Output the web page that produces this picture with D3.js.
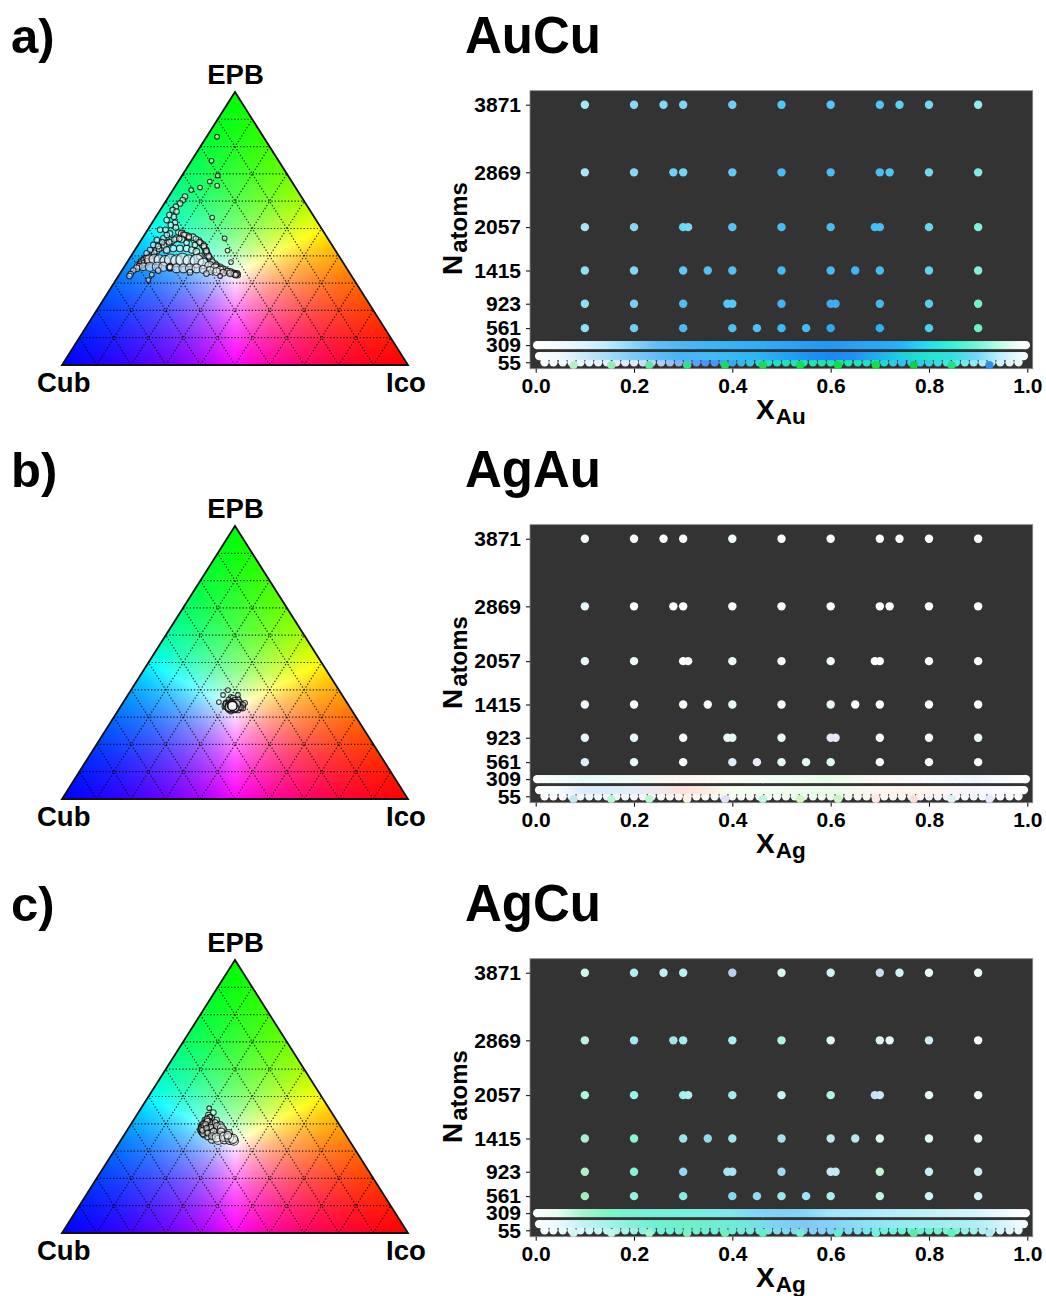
<!DOCTYPE html>
<html>
<head>
<meta charset="utf-8">
<script src="https://cdn.jsdelivr.net/npm/d3@7"></script>
<style>
  body { margin: 0; background: #fff; }
  text { font-family: "Liberation Sans", Arial, sans-serif; font-weight: bold; fill: #000; }
</style>
</head>
<body>
<div id="chart"></div>
<script>
// cluster sizes of the rows and the labelled ticks
const yTicks = [55, 309, 561, 923, 1415, 2057, 2869, 3871]
const xTicks = [0, 0.2, 0.4, 0.6, 0.8, 1]
const gridLevels = [0.1, 0.2, 0.3, 0.4, 0.5, 0.6, 0.7, 0.8, 0.9]

// compositions found in each row
const comp3871 = [0.1, 0.2, 0.26, 0.3, 0.4, 0.5, 0.6, 0.7, 0.74, 0.8, 0.9]
const comp2869 = [0.1, 0.2, 0.28, 0.3, 0.4, 0.5, 0.6, 0.7, 0.72, 0.8, 0.9]
const comp2057 = [0.1, 0.2, 0.3, 0.31, 0.4, 0.5, 0.6, 0.69, 0.7, 0.8, 0.9]
const comp1415 = [0.1, 0.2, 0.3, 0.35, 0.4, 0.5, 0.6, 0.65, 0.7, 0.8, 0.9]
const comp923 = [0.1, 0.2, 0.3, 0.39, 0.4, 0.5, 0.6, 0.61, 0.7, 0.8, 0.9]
const comp561 = [0.1, 0.2, 0.3, 0.4, 0.45, 0.5, 0.55, 0.6, 0.7, 0.8, 0.9]
const comp309 = [.003,.005,.01,.015,.02,.025,.03,.035,.04,.045,.05,.055,.06,.065,.07,.075,.08,.085,.09,.095,.1,
  .105,.11,.115,.12,.125,.13,.135,.14,.145,.15,.155,.16,.165,.17,.175,.18,.185,.19,.195,.2,
  .205,.21,.215,.22,.225,.23,.235,.24,.245,.25,.255,.26,.265,.27,.275,.28,.285,.29,.295,.3,
  .305,.31,.315,.32,.325,.33,.335,.34,.345,.35,.355,.36,.365,.37,.375,.38,.385,.39,.395,.4,
  .405,.41,.415,.42,.425,.43,.435,.44,.445,.45,.455,.46,.465,.47,.475,.48,.485,.49,.495,.5,
  .505,.51,.515,.52,.525,.53,.535,.54,.545,.55,.555,.56,.565,.57,.575,.58,.585,.59,.595,.6,
  .605,.61,.615,.62,.625,.63,.635,.64,.645,.65,.655,.66,.665,.67,.675,.68,.685,.69,.695,.7,
  .705,.71,.715,.72,.725,.73,.735,.74,.745,.75,.755,.76,.765,.77,.775,.78,.785,.79,.795,.8,
  .805,.81,.815,.82,.825,.83,.835,.84,.845,.85,.855,.86,.865,.87,.875,.88,.885,.89,.895,.9,
  .905,.91,.915,.92,.925,.93,.935,.94,.945,.95,.955,.96,.965,.97,.975,.98,.985,.99,.995,.997]
const comp147 = [.007,.01,.015,.02,.025,.03,.035,.04,.045,.05,.055,.06,.065,.07,.075,.08,.085,.09,.095,.1,
  .105,.11,.115,.12,.125,.13,.135,.14,.145,.15,.155,.16,.165,.17,.175,.18,.185,.19,.195,.2,
  .205,.21,.215,.22,.225,.23,.235,.24,.245,.25,.255,.26,.265,.27,.275,.28,.285,.29,.295,.3,
  .305,.31,.315,.32,.325,.33,.335,.34,.345,.35,.355,.36,.365,.37,.375,.38,.385,.39,.395,.4,
  .405,.41,.415,.42,.425,.43,.435,.44,.445,.45,.455,.46,.465,.47,.475,.48,.485,.49,.495,.5,
  .505,.51,.515,.52,.525,.53,.535,.54,.545,.55,.555,.56,.565,.57,.575,.58,.585,.59,.595,.6,
  .605,.61,.615,.62,.625,.63,.635,.64,.645,.65,.655,.66,.665,.67,.675,.68,.685,.69,.695,.7,
  .705,.71,.715,.72,.725,.73,.735,.74,.745,.75,.755,.76,.765,.77,.775,.78,.785,.79,.795,.8,
  .805,.81,.815,.82,.825,.83,.835,.84,.845,.85,.855,.86,.865,.87,.875,.88,.885,.89,.895,.9,
  .905,.91,.915,.92,.925,.93,.935,.94,.945,.95,.955,.96,.965,.97,.975,.98,.985,.99,.993]
const comp55 = [0.018, 0.036, 0.055, 0.073, 0.091, 0.109, 0.127, 0.145, 0.164, 0.182, 0.2, 0.218, 0.236, 0.255, 0.273, 0.291, 0.309, 0.327,
  0.345, 0.364, 0.382, 0.4, 0.418, 0.436, 0.455, 0.473, 0.491, 0.509, 0.527, 0.545, 0.564, 0.582, 0.6, 0.618, 0.636, 0.655, 0.673, 0.691,
  0.709, 0.727, 0.745, 0.764, 0.782, 0.8, 0.818, 0.836, 0.855, 0.873, 0.891, 0.909, 0.927, 0.945, 0.964, 0.982]
const comp13 = [0.077, 0.154, 0.231, 0.308, 0.385, 0.462, 0.538, 0.615, 0.692, 0.769, 0.846, 0.923]

// ternary points: [EPB fraction, Ico fraction, atoms]
const scatterA = [
  [.836,.030,55],[.748,.058,55],[.694,.103,55],[.672,.091,55],[.657,.120,55],[.650,.074,55],[.641,.053,55],[.540,.164,55],[.464,.238,55],[.419,.269,55],[.377,.300,55],
  [.617,.047,147],[.604,.047,147],[.592,.045,147],[.580,.039,147],[.568,.036,147],[.562,.050,147],[.549,.036,147],[.543,.052,147],[.531,.037,147],[.521,.066,147],[.513,.058,147],[.504,.077,147],[.495,.036,147],[.495,.052,147],[.482,.071,147],[.485,.094,147],
  [.482,.105,309],[.473,.124,309],[.468,.144,309],[.455,.167,309],[.440,.187,309],[.421,.205,309],[.403,.219,309],[.385,.238,309],[.370,.257,309],[.358,.278,309],[.348,.297,309],[.341,.316,309],[.333,.334,309],[.331,.341,309],
  [.478,.112,147],[.464,.134,147],[.447,.177,147],[.430,.196,147],[.412,.212,147],[.394,.229,147],[.362,.268,147],[.338,.327,147],[.335,.331,147],[.336,.338,147],
  [.476,.116,147],[.470,.132,147],[.462,.156,147],[.450,.172,147],[.436,.192,147],[.418,.208,147],[.398,.225,147],[.378,.246,147],[.366,.262,147],[.353,.288,147],[.344,.306,147],[.334,.330,147],[.332,.338,147],[.330,.336,147],
  [.391,.050,309],[.403,.058,309],[.419,.064,309],[.431,.072,309],[.446,.080,309],[.455,.090,309],[.464,.099,309],[.460,.116,309],
  [.397,.054,147],[.411,.061,147],[.425,.068,147],[.438,.076,147],[.450,.085,147],[.460,.095,147],[.462,.108,147],
  [.458,.045,147],[.440,.044,147],[.421,.044,147],[.409,.040,147],[.464,.061,147],[.476,.065,147],[.450,.065,147],[.435,.060,147],
  [.421,.092,309],[.427,.108,309],[.427,.127,309],[.427,.147,309],[.421,.165,309],[.415,.181,309],[.397,.200,309],[.448,.136,147],[.440,.164,147],
  [.364,.039,561],[.372,.044,561],[.382,.049,561],[.380,.040,309],[.388,.045,309],[.368,.048,309],[.376,.055,309],
  [.370,.040,147],[.376,.042,147],[.384,.044,147],[.392,.048,147],[.362,.042,147],[.374,.050,147],[.380,.056,147],
  [.387,.059,923],[.387,.073,1415],[.385,.089,1415],[.382,.107,1415],[.385,.121,2057],[.382,.140,2057],[.385,.156,2869],[.382,.176,2057],[.381,.199,2869],[.372,.222,1415],[.363,.244,923],[.354,.265,923],[.348,.283,561],
  [.354,.039,309],[.346,.033,147],[.333,.032,147],[.326,.032,147],
  [.360,.055,561],[.360,.074,923],[.360,.094,923],[.360,.113,923],[.358,.133,561],[.358,.133,309],[.358,.133,147],[.354,.154,923],[.354,.174,923],[.354,.193,923],[.354,.212,923],[.350,.233,561],[.346,.255,561],[.342,.276,561],[.338,.297,309],[.336,.318,309],
  [.311,.094,55],[.331,.094,55],[.346,.105,147],[.326,.294,55],[.335,.250,147],[.340,.200,147]
]
const scatterB = [
  [.399,.280,55],[.355,.276,55],[.381,.275,55],[.381,.318,55],[.352,.353,55],[.374,.301,55],
  [.352,.298,147],[.363,.301,147],[.370,.309,147],[.363,.328,147],[.348,.343,147],[.333,.356,147],[.326,.346,147],[.333,.313,147],[.341,.300,147],[.322,.327,147],[.355,.322,147],[.337,.346,147],
  [.352,.305,147],[.358,.312,147],[.362,.318,147],[.355,.335,147],[.345,.350,147],[.335,.350,147],[.326,.335,147],[.328,.318,147],[.338,.305,147],[.348,.300,147],
  [.350,.325,309],[.345,.338,309],[.332,.338,309],[.330,.322,309],[.343,.310,309],[.352,.315,309],
  [.350,.318,309],[.348,.332,309],[.338,.342,309],[.330,.330,309],[.336,.312,309],[.346,.312,309],
  [.349,.322,561],[.344,.333,561],[.334,.332,561],[.335,.316,561],[.344,.314,561],
  [.348,.328,923],[.336,.330,923],[.338,.316,923],[.346,.318,923],
  [.341,.322,923],[.341,.322,923],[.341,.322,923],[.341,.322,923],[.341,.322,923]
]
const scatterC = [
  [.457,.197,55],[.441,.217,147],[.432,.207,147],[.414,.206,147],[.420,.223,147],[.414,.240,147],
  [.396,.206,147],[.396,.220,147],[.396,.239,147],[.396,.259,309],[.377,.211,147],[.377,.225,147],[.380,.243,309],[.377,.261,309],[.380,.276,309],
  [.359,.231,147],[.365,.246,309],[.359,.266,561],[.359,.282,561],[.365,.299,561],[.343,.262,561],[.341,.281,923],[.343,.298,923],[.343,.315,1415],[.338,.328,923],
  [.425,.215,147],[.405,.212,147],[.388,.208,147],[.370,.218,147],[.405,.226,147],[.388,.222,147],[.370,.232,147],[.405,.240,147],[.388,.236,147],[.352,.245,147],
  [.425,.215,55],[.405,.212,55],[.388,.208,55],[.370,.218,55],[.396,.215,55],[.380,.215,55],[.412,.218,55],
  [.418,.210,147],[.400,.209,147],[.382,.212,147],[.364,.225,147],[.392,.214,147],[.376,.218,147],[.410,.215,147],[.398,.216,147],[.384,.226,147],[.366,.238,147],
  [.392,.252,309],[.372,.252,309],[.355,.256,309],[.385,.268,561],[.370,.275,561],[.350,.272,923],[.352,.292,923],[.350,.308,923],[.345,.322,923],[.358,.300,561]
]

// colours of the single points, one per composition of the row
const aColours3871 = ["#a8e5f8","#88d8f5","#85d8f5","#80d5f5","#70cef5","#55c5f5","#55c5f5","#50c5f5","#60d0f0","#70d8f0","#90ecec"]
const aColours2869 = ["#a8e5f8","#88d8f5","#70d0f5","#75d5f5","#60c8f5","#45bdf5","#45bdf5","#45bdf5","#50c5f0","#70d8f0","#80e8e5"]
const aColours2057 = ["#a8e5f5","#88d8f5","#70d5f5","#75d8f5","#55c5f5","#45bdf5","#45bdf5","#45bdf5","#45c0f5","#65d5f0","#80f0e0"]
const aColours1415 = ["#90e0f5","#80d8f5","#60c8f5","#55c0f5","#50c0f5","#40bbf5","#40bbf5","#40b5f5","#40bdf5","#60d0f5","#80f0dd"]
const aColours923 = ["#90dff5","#78cef0","#50c0f0","#55c8f8","#55c8f8","#40b5f5","#40aaf5","#40aaf5","#40bbf0","#55ccf0","#70f0cc"]
const aColours561 = ["#90dff5","#70cef0","#50baf0","#50bef0","#50c0f5","#40baf5","#40bdf5","#30a8ee","#30b0ee","#50ccec","#70eec0"]
const bColours3871 = ["#f2fafa","#ffffff","#ffffff","#fafffa","#f5ffff","#ffffff","#ffffff","#fafffa","#ffffff","#ffffff","#ffffff"]
const bColours2869 = ["#e5f5f8","#ffffff","#f8fffa","#ffffff","#f5fbf8","#f5fbf8","#ffffff","#ffffff","#ffffff","#ffffff","#ffffff"]
const bColours2057 = ["#e8f8fa","#eefbfa","#ffffff","#f5fafa","#eefbf5","#f5fbf8","#f0fbf5","#ffffff","#ffffff","#ffffff","#ffffff"]
const bColours1415 = ["#eef5fa","#f5fbf8","#fafff5","#ffffff","#e8f8ec","#f5fbf8","#e8f8ec","#ffffff","#ffffff","#ffffff","#ffffff"]
const bColours923 = ["#e8f5fa","#e8f8fa","#f5fbf2","#eefbf5","#e8f8f5","#ecfaf0","#e5e8fa","#e5e8fa","#ffffff","#f5fbf8","#e5f8f5"]
const bColours561 = ["#ddeef8","#eaf8fa","#f5fbf5","#ddecf8","#e8edf8","#e8faf0","#e0fbf0","#e0f8ee","#ffffff","#f5fbf8","#f5fbf8"]
const cColours3871 = ["#d0f5ee","#b0eef5","#c0f0f5","#b8f0f5","#b8d0f0","#d8f8f2","#d0f2f5","#d0dcf2","#d0f5f5","#e8faf0","#f0faf5"]
const cColours2869 = ["#c0f0e5","#a0e8f5","#a8e0f0","#a8eef0","#a8eef5","#b0f5d5","#e0faf0","#d8f2f5","#e5f5f5","#d0ecf2","#f5fbf2"]
const cColours2057 = ["#b0f5e0","#98f5e5","#a5eef0","#b0eef0","#a0eef0","#c8f5f5","#b0f5e5","#cfe0f8","#c8e8f5","#e8faf5","#f0fbf5"]
const cColours1415 = ["#a8eed0","#88f5d5","#98e8ee","#90dcee","#a0e8f0","#a8e0ee","#c0e8f0","#b8e5f2","#d8f8e8","#e0f8f8","#e8faf5"]
const cColours923 = ["#b0f0c8","#80f5d5","#90d8f5","#a0e5f5","#a5e5f5","#a0d8f2","#c8e8f8","#c0e8f5","#c0f5d5","#c0f0f5","#d0ecf2"]
const cColours561 = ["#a0eec0","#90f5e0","#80eee5","#80dcee","#90dcf5","#98e8f0","#98e5f5","#a8f0f0","#c0f5e0","#c8f5f5","#d8f2f5"]

// band colours at these compositions
const colourStops = [0, .05, .1, .15, .2, .25, .3, .35, .4, .45, .5, .55, .6, .65, .7, .75, .8, .85, .9, .95, 1]
const coloursA309 = ["#ffffff","#f5fbff","#e0f5ff","#c0eaff","#8fd6fb","#60c0f8","#4db8f8","#40b5fa","#35b4fa","#2fb0fa","#2aa8fa","#259ffa","#2098fa","#2aa0fa","#25a8fa","#25b5fa","#20e0f0","#30f5d5","#70f5d5","#c0fbe8","#ffffff"]
const coloursA147 = ["#ffffff","#f0f9ff","#cdeafc","#a8dcfb","#80ccf9","#60bff8","#45b5fa","#40bcfa","#38bafa","#30b5fa","#25a8fa","#2095f8","#1888f8","#2090f8","#20b0f0","#20d0e0","#20e5d0","#30e0e0","#70d8fa","#c0f0ff","#f5fcff"]
const coloursA55 = ["#ffffff","#f5f8ff","#eef5ff","#e5eefd","#dde8fb","#b8cef5","#7fa8f0","#4f90f0","#3aa8f0","#28d8d0","#20e0c0","#20e5b0","#20e5a8","#20e5b0","#20dcd0","#30c0f0","#30d0e0","#50e8e0","#a0eaf5","#d8f2fa","#f5f5f5"]
const coloursA13 = ["#b5f0c5","#90f0b0","#60e8a0","#30e090","#20d860","#20d850","#10e050","#10e040","#10e040","#10d040","#20e080","#3090f0"]
const coloursB309 = ["#ffffff","#f2fdfc","#e5fbfb","#eafcf8","#eefcf5","#f8f9f2","#fff5f0","#fdf9f0","#fafff5","#f5fff5","#f0fff5","#ecffef","#e8ffe8","#f4fbee","#fff8f5","#fcf9fa","#f8fbff","#f4f9ff","#f0f6ff","#f8fbff","#ffffff"]
const coloursB147 = ["#ffffff","#f5fcff","#dcecfb","#dcecfb","#e0effa","#f0e8ec","#ffe2dc","#ffe8dc","#f5fff0","#f2fef0","#f0fcf0","#ecfbec","#e8fbe8","#f4f8ec","#fff5f0","#fef5ef","#fdf5ee","#f9f5f6","#f5f5ff","#fafaff","#ffffff"]
const coloursB55 = ["#ffffff","#fafcff","#f0f6fc","#f2f8fb","#f4f8fa","#f8f6f4","#fdf5f2","#faf8f2","#f5fcf5","#f2fbf4","#f0fbf0","#eefbee","#ecfaec","#f5f8ef","#fcf5f2","#fbf4f0","#f8f4f5","#f4f6fa","#f2f5fc","#f8f9fd","#fcfcfc"]
const coloursB13 = ["#c5e8f0","#b8f5d8","#b8f5d0","#fff0e0","#e0e0fa","#c0f5e0","#d0f5c0","#c8f5c8","#ffe8e0","#fcdcd8","#e0f0f8","#e5ebff"]
const coloursC309 = ["#ffffff","#e5fff0","#a5f5d0","#80f5c5","#78f0d5","#78f0da","#78f0e0","#7ceee8","#80e8ee","#80d8f5","#80d0f8","#85d5f8","#a0e5f8","#a8e8f9","#b0ecfa","#b8eefa","#c0f0fb","#cbf3fb","#d5f5fc","#eafafe","#ffffff"]
const coloursC147 = ["#ffffff","#eaf9ff","#c5f3f5","#a8f3e8","#88f0d8","#70f0d0","#70f0c5","#70eecf","#70ecd8","#78e0e5","#80d0f5","#80c8f5","#85d0f8","#8bdbf6","#90e5f5","#94eaf2","#98eef0","#a4eef2","#b0eef5","#d0f5fa","#f5fcff"]
const coloursC55 = ["#ffffff","#ecfcfc","#d8f8fa","#bcf4f0","#a0f0e5","#70f0d8","#70f0d0","#70eed4","#70ecd8","#78e4e4","#80dcf0","#88ccf5","#80d0f8","#80e0f5","#70f0e0","#70f0d8","#70f0d0","#80f0d0","#a8f0f0","#d5f5fa","#f5f8fa"]
const coloursC13 = ["#d0f5f5","#c0f5e8","#a0f5d0","#80f0c0","#70f0c0","#60f0c0","#70f0d0","#60f0d0","#70f0e0","#60e8a8","#60f0c0","#b0e8f5"]

const panels = [
  { letter: "a)", title: "AuCu", sub: "Au", scatter: scatterA, c309: coloursA309, c147: coloursA147, c55: coloursA55, c13: coloursA13,
    single: [aColours561, aColours923, aColours1415, aColours2057, aColours2869, aColours3871] },
  { letter: "b)", title: "AgAu", sub: "Ag", scatter: scatterB, c309: coloursB309, c147: coloursB147, c55: coloursB55, c13: coloursB13,
    single: [bColours561, bColours923, bColours1415, bColours2057, bColours2869, bColours3871] },
  { letter: "c)", title: "AgCu", sub: "Ag", scatter: scatterC, c309: coloursC309, c147: coloursC147, c55: coloursC55, c13: coloursC13,
    single: [cColours561, cColours923, cColours1415, cColours2057, cColours2869, cColours3871] }
]

const singleRows = [[561, comp561], [923, comp923], [1415, comp1415], [2057, comp2057], [2869, comp2869], [3871, comp3871]]
const panelStep = 434

const svg = d3.select("#chart").append("svg")
    .attr("width", 1046)
    .attr("height", 1296)

// ternary scales, shared by all the triangles
const triX = d3.scaleLinear().domain([0, 1]).range([62, 408])
const triY = d3.scaleLinear().domain([0, 1]).range([365, 92])
const radius = d3.scaleSqrt().domain([13, 3871]).range([2, 7.5])

// scatter axes
const x = d3.scaleLinear().domain([0, 1]).range([535.7, 1027.3])
const y = d3.scaleLinear().domain([55, 3871]).range([362.3, 104.7])
const plot = { left: 530, right: 1032.7, top: 90.7, bottom: 368.7 }

function triPoint(epb, ico) {
    return [triX(ico + epb / 2), triY(epb)]
}

// paint the colour triangle once, every panel reuses the same image
function ternaryImage() {
    const canvas = document.createElement("canvas")
    canvas.width = 1046
    canvas.height = 420
    const ctx = canvas.getContext("2d")
    const img = ctx.createImageData(canvas.width, canvas.height)
    for (let py = 0; py < canvas.height; py++) {
        for (let px = 0; px < canvas.width; px++) {
            const epb = triY.invert(py + 0.5)
            const ico = triX.invert(px + 0.5) - epb / 2
            const cub = 1 - epb - ico
            if (epb < 0 || ico < 0 || cub < 0) continue
            const top = Math.max(epb, ico, cub)
            const i = (py * canvas.width + px) * 4
            img.data[i] = 255 * ico / top
            img.data[i + 1] = 255 * epb / top
            img.data[i + 2] = 255 * cub / top
            img.data[i + 3] = 255
        }
    }
    ctx.putImageData(img, 0, 0)
    return canvas.toDataURL()
}
const triangleHref = ternaryImage()
const triLine = d3.line()

function drawTernary(g, scatter) {
    g.append("image")
        .attr("href", triangleHref)
        .attr("width", 1046)
        .attr("height", 420)

    // dotted grid, three directions
    gridLevels.forEach(function (t) {
        const segments = [
            [triPoint(t, 0), triPoint(t, 1 - t)],
            [triPoint(0, t), triPoint(1 - t, t)],
            [triPoint(0, 1 - t), triPoint(1 - t, 0)]
        ]
        segments.forEach(function (s) {
            g.append("path")
                .attr("d", triLine(s))
                .style("fill", "none")
                .style("stroke", "#000")
                .style("stroke-width", 1.2)
                .style("stroke-dasharray", "1.3 2")
                .style("opacity", 0.8)
        })
    })

    g.append("path")
        .attr("d", triLine([triPoint(0, 0), triPoint(0, 1), triPoint(1, 0)]) + "Z")
        .style("fill", "none")
        .style("stroke", "#111")
        .style("stroke-width", 1.8)

    g.selectAll(".pt")
        .data(scatter)
        .enter().append("circle")
        .attr("class", "pt")
        .attr("cx", function (d) { return triPoint(d[0], d[1])[0] })
        .attr("cy", function (d) { return triPoint(d[0], d[1])[1] })
        .attr("r", function (d) { return radius(d[2]) })
        .style("fill", "rgba(245,245,245,0.55)")
        .style("stroke", "rgba(0,0,0,0.75)")
        .style("stroke-width", 1.1)

    g.append("text").attr("x", 235.5).attr("y", 83.5).attr("text-anchor", "middle").style("font-size", "27.5px").text("EPB")
    g.append("text").attr("x", 37).attr("y", 392).style("font-size", "27.5px").text("Cub")
    g.append("text").attr("x", 386).attr("y", 392).style("font-size", "27.5px").text("Ico")
}

function drawRow(g, comps, atoms, colourOf) {
    g.append("g").selectAll("circle")
        .data(comps)
        .enter().append("circle")
        .attr("cx", function (d) { return x(d) })
        .attr("cy", y(atoms))
        .attr("r", 4.2)
        .style("fill", function (d, i) { return colourOf(d, i) })
}

function drawScatter(g, panel, idx) {
    g.append("clipPath").attr("id", "plot" + idx).append("rect")
        .attr("x", plot.left).attr("y", plot.top)
        .attr("width", plot.right - plot.left).attr("height", plot.bottom - plot.top)

    g.append("rect")
        .attr("x", plot.left).attr("y", plot.top)
        .attr("width", plot.right - plot.left).attr("height", plot.bottom - plot.top)
        .style("fill", "#333333")
        .style("stroke", "#888")
        .style("stroke-width", 0.8)

    const marks = g.append("g").attr("clip-path", "url(#plot" + idx + ")")
    const byComp = function (colours) {
        const scale = d3.scaleLinear().domain(colourStops).range(colours)
        return function (d) { return scale(d) }
    }

    drawRow(marks, comp55, 55, byComp(panel.c55))
    drawRow(marks, comp13, 13, function (d, i) { return panel.c13[i] })
    drawRow(marks, comp147, 147, byComp(panel.c147))
    drawRow(marks, comp309, 309, byComp(panel.c309))
    singleRows.forEach(function (row, i) {
        drawRow(marks, row[1], row[0], function (d, j) { return panel.single[i][j] })
    })

    // axes
    g.append("g")
        .attr("transform", "translate(" + plot.left + ",0)")
        .call(d3.axisLeft(y).tickValues(yTicks).tickSize(4).tickPadding(5).tickFormat(d3.format("d")))
        .call(function (a) { a.select(".domain").remove() })
        .selectAll("text").style("font-size", "21px").style("font-family", null)

    g.append("g")
        .attr("transform", "translate(0," + plot.bottom + ")")
        .call(d3.axisBottom(x).tickValues(xTicks).tickSize(4).tickPadding(5).tickFormat(d3.format(".1f")))
        .call(function (a) { a.select(".domain").remove() })
        .selectAll("text").style("font-size", "21px").style("font-family", null)

    // x label with subscript
    const xLabel = g.append("text").attr("x", 756).attr("y", 419).style("font-size", "28px")
    xLabel.append("tspan").text("X")
    xLabel.append("tspan").attr("dy", 5).attr("dx", 1).style("font-size", "22.5px").text(panel.sub)

    // y label with subscript
    const yLabel = g.append("text")
        .attr("transform", "translate(462,275) rotate(-90)")
        .style("font-size", "28px")
    yLabel.append("tspan").text("N")
    yLabel.append("tspan").attr("dy", 5).attr("dx", 2).style("font-size", "24px").text("atoms")
}

panels.forEach(function (panel, idx) {
    const g = svg.append("g").attr("transform", "translate(0," + idx * panelStep + ")")
    g.append("text").attr("x", 11).attr("y", 53).style("font-size", "49px").text(panel.letter)
    g.append("text").attr("x", 465).attr("y", 53).style("font-size", "51px").text(panel.title)
    drawTernary(g, panel.scatter)
    drawScatter(g, panel, idx)
})
</script>
</body>
</html>
